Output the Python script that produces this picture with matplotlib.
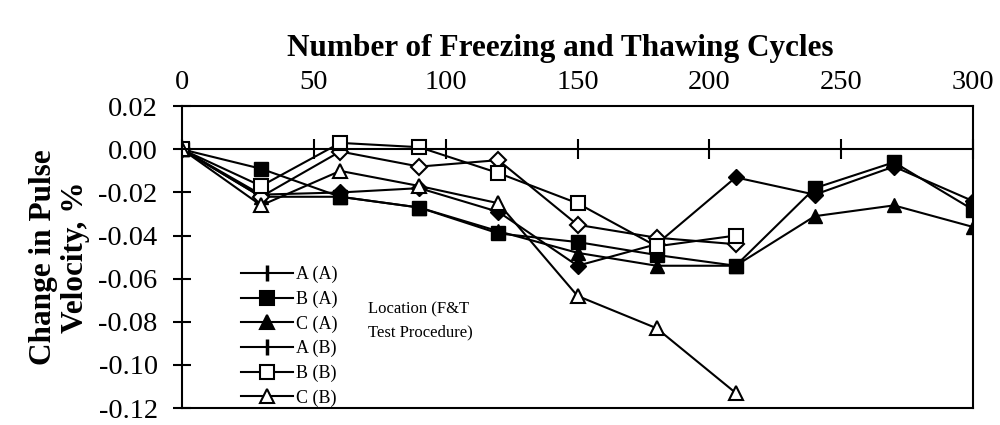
import numpy as np
import matplotlib.pyplot as plt
from matplotlib.lines import Line2D

plt.rcParams['font.family'] = ['Liberation Serif', 'DejaVu Serif']

# cycles
cycles = [0, 30, 60, 90, 120, 150, 180, 210, 240, 270, 300]
cycles_b = [0, 30, 60, 90, 120, 150, 180, 210]

# change in pulse velocity, %
a_a = [0.0, -0.021, -0.020, -0.018, -0.029, -0.054, -0.044, -0.013, -0.021, -0.008, -0.024]
b_a = [0.0, -0.009, -0.022, -0.027, -0.039, -0.043, -0.049, -0.054, -0.018, -0.006, -0.028]
c_a = [0.0, -0.022, -0.022, -0.027, -0.038, -0.048, -0.054, -0.054, -0.031, -0.026, -0.036]
a_b = [0.0, -0.022, -0.001, -0.008, -0.005, -0.035, -0.041, -0.044]
b_b = [0.0, -0.017, 0.003, 0.001, -0.011, -0.025, -0.045, -0.040]
c_b = [0.0, -0.026, -0.010, -0.017, -0.025, -0.068, -0.083, -0.113]

labels = ['A (A)', 'B (A)', 'C (A)', 'A (B)', 'B (B)', 'C (B)']

xlim = (0, 300)
ylim = (-0.12, 0.02)

fig = plt.figure(figsize=(10, 4.25), dpi=100)
ax = fig.add_axes([0.182, 0.04, 0.791, 0.71])

#series
ax.plot(cycles, a_a, '-D', color='k', lw=1.5, ms=8, mfc='k', mec='k')
ax.plot(cycles, b_a, '-s', color='k', lw=1.5, ms=10, mfc='k', mec='k')
ax.plot(cycles, c_a, '-^', color='k', lw=1.5, ms=10, mfc='k', mec='k')
ax.plot(cycles_b, a_b, '-D', color='k', lw=1.5, ms=8, mfc='w', mec='k', mew=1.5)
ax.plot(cycles_b, b_b, '-s', color='k', lw=1.5, ms=10, mfc='w', mec='k', mew=1.5)
ax.plot(cycles_b, c_b, '-^', color='k', lw=1.5, ms=10, mfc='w', mec='k', mew=1.5)

ax.set_xlim(xlim)
ax.set_ylim(ylim)
ax.set_xticks(np.arange(0, 301, 50))
ax.set_yticks(np.arange(-0.12, 0.021, 0.02))
ax.set_yticklabels(['%.2f' % v for v in np.arange(-0.12, 0.021, 0.02)])

#x axis drawn through zero, labels on top
ax.spines['bottom'].set_position(('data', 0))
ax.axhline(ylim[0], color='k', lw=1.5, clip_on=False)
for s in ax.spines.values():
    s.set_linewidth(1.5)
ax.tick_params(axis='x', bottom=True, top=False, labelbottom=False, labeltop=True,
               direction='inout', length=14, width=1.5, labelsize=20.5, pad=1)
ax.tick_params(axis='y', direction='inout', length=13, width=1.5, labelsize=20.5, pad=11)

ax.xaxis.set_label_position('top')
ax.set_xlabel('Number of Freezing and Thawing Cycles', fontsize=22.5, fontweight='bold',
              labelpad=10, x=0.478)
ax.set_ylabel('Change in Pulse\nVelocity, %', fontsize=22.5, fontweight='bold', labelpad=6,
              linespacing=1.15)

#legend
markers = ['|', 's', '^', '|', 's', '^']
fills = ['k', 'k', 'k', 'k', 'w', 'w']
handles = []
for m, f, lab in zip(markers, fills, labels):
    handles.append(Line2D([], [], color='k', lw=1.5, marker=m, ms=10 if m != '|' else 11,
                          mfc=f, mec='k', mew=1.5 if m != '|' else 2.5, label=lab))
ax.legend(handles=handles, loc='lower left', bbox_to_anchor=(0.065, -0.02), frameon=False,
          fontsize=13, handlelength=2.9, handletextpad=0.15, labelspacing=0.41, borderaxespad=0)

ax.text(0.235, 0.29, 'Location (F&T\nTest Procedure)', transform=ax.transAxes,
        fontsize=12, va='center', ha='left', linespacing=1.6)

fig.savefig('out.png', dpi=100)
